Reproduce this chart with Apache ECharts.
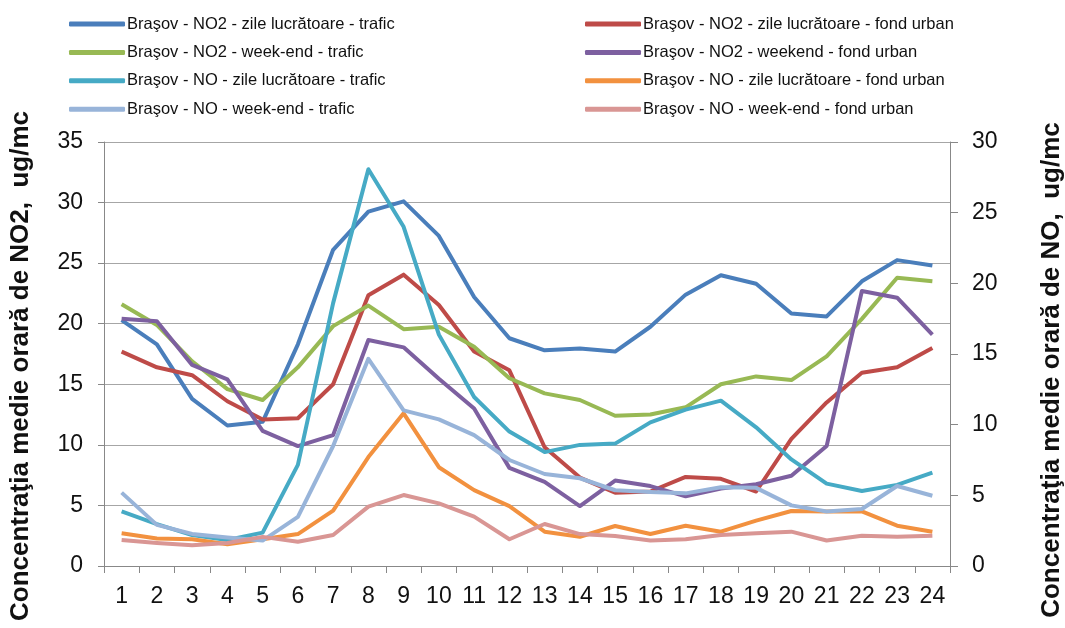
<!DOCTYPE html>
<html>
<head>
<meta charset="utf-8">
<script src="https://cdn.jsdelivr.net/npm/echarts@6/dist/echarts.min.js"></script>
<style>html,body{margin:0;padding:0;background:#fff;}#c{width:1065px;height:628px;}</style>
</head>
<body>
<div id="c"></div>
<script>
const hours = ['1','2','3','4','5','6','7','8','9','10','11','12','13','14','15','16','17','18','19','20','21','22','23','24'];
const leftTicks = [0, 35, 5];
const rightTicks = [0, 30, 5];

const names = [
  'Braşov - NO2 - zile lucrătoare - trafic',
  'Braşov - NO2 - zile lucrătoare - fond urban',
  'Braşov - NO2 - week-end - trafic',
  'Braşov - NO2 - weekend - fond urban',
  'Braşov - NO - zile lucrătoare - trafic',
  'Braşov - NO - zile lucrătoare - fond urban',
  'Braşov - NO - week-end - trafic',
  'Braşov - NO - week-end - fond urban'
];

// NO2 (left axis)
const no2WorkTraffic   = [20.3, 18.3, 13.8, 11.6, 11.9, 18.3, 26.1, 29.25, 30.1, 27.25, 22.2, 18.8, 17.8, 17.95, 17.7, 19.75, 22.4, 24.0, 23.3, 20.85, 20.6, 23.5, 25.25, 24.8];
const no2WorkUrban     = [17.7, 16.4, 15.75, 13.6, 12.1, 12.2, 15.0, 22.35, 24.05, 21.55, 17.7, 16.15, 9.8, 7.3, 6.05, 6.15, 7.35, 7.2, 6.15, 10.5, 13.5, 15.95, 16.4, 18.0];
const no2WeekendTraffic= [21.6, 19.9, 16.9, 14.6, 13.7, 16.4, 19.8, 21.5, 19.55, 19.75, 18.1, 15.5, 14.25, 13.7, 12.4, 12.5, 13.1, 15.0, 15.65, 15.35, 17.3, 20.4, 23.8, 23.5];
const no2WeekendUrban  = [20.4, 20.2, 16.6, 15.4, 11.15, 9.9, 10.8, 18.65, 18.05, 15.45, 13.0, 8.1, 6.95, 4.95, 7.05, 6.6, 5.75, 6.4, 6.75, 7.45, 9.9, 22.7, 22.15, 19.1];
// NO (right axis)
const noWorkTraffic    = [3.86, 2.96, 2.19, 1.84, 2.36, 7.16, 18.6, 28.07, 24.0, 16.37, 11.96, 9.51, 8.06, 8.57, 8.66, 10.16, 11.06, 11.7, 9.81, 7.54, 5.83, 5.31, 5.74, 6.6];
const noWorkUrban      = [2.31, 1.95, 1.89, 1.54, 1.89, 2.26, 3.92, 7.71, 10.8, 6.99, 5.37, 4.24, 2.43, 2.07, 2.83, 2.26, 2.85, 2.43, 3.21, 3.89, 3.86, 3.86, 2.85, 2.43];
const noWeekendTraffic = [5.19, 2.91, 2.27, 2.01, 1.8, 3.47, 8.49, 14.66, 11.01, 10.37, 9.26, 7.5, 6.51, 6.21, 5.36, 5.23, 5.14, 5.57, 5.53, 4.29, 3.86, 4.03, 5.66, 4.97];
const noWeekendUrban   = [1.84, 1.63, 1.46, 1.63, 2.06, 1.71, 2.19, 4.2, 5.02, 4.43, 3.49, 1.89, 2.97, 2.26, 2.13, 1.8, 1.89, 2.19, 2.31, 2.43, 1.8, 2.14, 2.07, 2.14];

const seriesData = [no2WorkTraffic, no2WorkUrban, no2WeekendTraffic, no2WeekendUrban, noWorkTraffic, noWorkUrban, noWeekendTraffic, noWeekendUrban];
const axisIdx = [0,0,0,0,1,1,1,1];
const colors = ['#4A7EBB','#BE4B48','#98B954','#7D60A0','#46AAC5','#F2913F','#98B4D9','#D99694'];

const FONT = '"Liberation Sans", Arial, sans-serif';

const chart = echarts.init(document.getElementById('c'));
const legendCommon = {
  orient: 'vertical',
  top: 9,
  itemWidth: 56,
  itemHeight: 5,
  itemGap: 8.4,
  icon: 'roundRect',
  textStyle: { fontFamily: FONT, fontSize: 16.5, color: '#111', lineHeight: 20, padding: [0,0,0,-3] }
};
chart.setOption({
  animation: false,
  color: colors,
  legend: [
    Object.assign({ left: 64, data: [names[0], names[2], names[4], names[6]] }, legendCommon),
    Object.assign({ left: 580, data: [names[1], names[3], names[5], names[7]] }, legendCommon)
  ],
  grid: { left: 104, right: 115, top: 142, bottom: 62, containLabel: false, outerBoundsMode: 'none' },
  xAxis: {
    type: 'category',
    data: hours,
    boundaryGap: true,
    axisLine: { lineStyle: { color: '#888', width: 1 } },
    axisTick: { show: true, interval: 0, length: 7, lineStyle: { color: '#888' } },
    axisLabel: { interval: 0, fontFamily: FONT, fontSize: 23, color: '#111', margin: 19 }
  },
  yAxis: [
    {
      type: 'value', min: leftTicks[0], max: leftTicks[1], interval: leftTicks[2],
      name: 'Concentraţia medie orară de NO2,  ug/mc',
      nameLocation: 'middle', nameGap: 70, nameRotate: 90,
      nameTextStyle: { fontFamily: FONT, fontSize: 26, fontWeight: 'bold', color: '#111', padding: [0, 24, 0, 0] },
      axisLine: { show: true, lineStyle: { color: '#888' } },
      axisTick: { show: true, length: 6, lineStyle: { color: '#888' } },
      axisLabel: { fontFamily: FONT, fontSize: 23, color: '#111', margin: 21 },
      splitLine: { show: true, lineStyle: { color: '#A6A6A6', width: 1 } }
    },
    {
      type: 'value', min: rightTicks[0], max: rightTicks[1], interval: rightTicks[2],
      position: 'right',
      name: 'Concentraţia medie orară de NO,  ug/mc',
      nameLocation: 'middle', nameGap: 89, nameRotate: 90,
      nameTextStyle: { fontFamily: FONT, fontSize: 26, fontWeight: 'bold', color: '#111', padding: [0, 32, 0, 0] },
      axisLine: { show: true, lineStyle: { color: '#888' } },
      axisTick: { show: true, length: 8, lineStyle: { color: '#888' } },
      axisLabel: { fontFamily: FONT, fontSize: 23, color: '#111', margin: 22 },
      splitLine: { show: false }
    }
  ],
  series: seriesData.map((d, i) => ({
    name: names[i],
    type: 'line',
    yAxisIndex: axisIdx[i],
    data: d,
    showSymbol: false,
    symbol: 'none',
    lineStyle: { width: 4, color: colors[i], join: 'round' },
    itemStyle: { color: colors[i] }
  }))
});
</script>
</body>
</html>
